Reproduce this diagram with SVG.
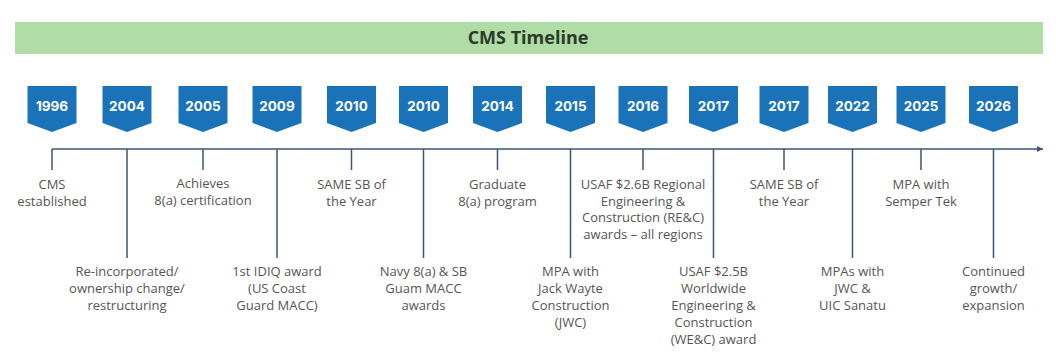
<svg xmlns="http://www.w3.org/2000/svg" width="1056" height="360" viewBox="0 0 1056 360">
<defs>
<style>
.yr{font-family:Inter,"Liberation Sans",sans-serif;font-weight:700;font-size:13.5px;fill:#fff;text-anchor:middle}
.lb{font-family:"Open Sans","Liberation Sans",sans-serif;font-size:13px;fill:#555;text-anchor:middle}
.tk{stroke:#3d5573;stroke-width:1.5;fill:none}
.bd{fill:#1a72b9}
</style>
<marker id="ah" markerWidth="8" markerHeight="8" refX="6" refY="4" orient="auto" markerUnits="userSpaceOnUse">
<path d="M0,1 L6,4 L0,7 Z" fill="#3d5573"/>
</marker>
<path id="badge" d="M-24.5,0 H24.5 V37 L0,46 L-24.5,37 Z"/>
</defs>
<rect x="0" y="0" width="1056" height="360" fill="#fff"/>
<g id="title">
<rect x="15" y="22" width="1028" height="32" fill="#b0dca5"/>
<text x="528" y="44" font-family="'Open Sans','Liberation Sans',sans-serif" font-weight="700" font-size="18" fill="#2b3a2b" text-anchor="middle">CMS Timeline</text>
</g>
<g id="connectors">
<line class="tk" x1="52" y1="149" x2="1043" y2="149" marker-end="url(#ah)"/>
<line class="tk" x1="52" y1="149" x2="52" y2="170"/>
<line class="tk" x1="127" y1="149" x2="127" y2="258"/>
<line class="tk" x1="203" y1="149" x2="203" y2="170"/>
<line class="tk" x1="277" y1="149" x2="277" y2="258"/>
<line class="tk" x1="351.5" y1="149" x2="351.5" y2="170"/>
<line class="tk" x1="423.5" y1="149" x2="423.5" y2="258"/>
<line class="tk" x1="497.5" y1="149" x2="497.5" y2="170"/>
<line class="tk" x1="570.5" y1="149" x2="570.5" y2="258"/>
<line class="tk" x1="643" y1="149" x2="643" y2="170"/>
<line class="tk" x1="713.5" y1="149" x2="713.5" y2="258"/>
<line class="tk" x1="784" y1="149" x2="784" y2="170"/>
<line class="tk" x1="852.5" y1="149" x2="852.5" y2="258"/>
<line class="tk" x1="921" y1="149" x2="921" y2="170"/>
<line class="tk" x1="993.5" y1="149" x2="993.5" y2="258"/>
</g>
<g id="n1996"><use href="#badge" x="52" y="86" class="bd"/><text class="yr" x="52" y="110.5">1996</text>
<text class="lb" x="52" y="188.5">CMS</text><text class="lb" x="52" y="205.5">established</text></g>
<g id="n2004"><use href="#badge" x="127" y="86" class="bd"/><text class="yr" x="127" y="110.5">2004</text>
<text class="lb" x="127" y="275.5">Re-incorporated/</text><text class="lb" x="127" y="292.5">ownership change/</text><text class="lb" x="127" y="309.5">restructuring</text></g>
<g id="n2005"><use href="#badge" x="203" y="86" class="bd"/><text class="yr" x="203" y="110.5">2005</text>
<text class="lb" x="203" y="187.5">Achieves</text><text class="lb" x="203" y="204.5">8(a) certification</text></g>
<g id="n2009"><use href="#badge" x="277" y="86" class="bd"/><text class="yr" x="277" y="110.5">2009</text>
<text class="lb" x="277" y="275.5">1st IDIQ award</text><text class="lb" x="277" y="292.5">(US Coast</text><text class="lb" x="277" y="309.5">Guard MACC)</text></g>
<g id="n2010a"><use href="#badge" x="351.5" y="86" class="bd"/><text class="yr" x="351.5" y="110.5">2010</text>
<text class="lb" x="351.5" y="188.5">SAME SB of</text><text class="lb" x="351.5" y="205.5">the Year</text></g>
<g id="n2010b"><use href="#badge" x="423.5" y="86" class="bd"/><text class="yr" x="423.5" y="110.5">2010</text>
<text class="lb" x="423.5" y="275.5">Navy 8(a) &amp; SB</text><text class="lb" x="423.5" y="292.5">Guam MACC</text><text class="lb" x="423.5" y="309.5">awards</text></g>
<g id="n2014"><use href="#badge" x="497.5" y="86" class="bd"/><text class="yr" x="497.5" y="110.5">2014</text>
<text class="lb" x="497.5" y="188.5">Graduate</text><text class="lb" x="497.5" y="205.5">8(a) program</text></g>
<g id="n2015"><use href="#badge" x="570.5" y="86" class="bd"/><text class="yr" x="570.5" y="110.5">2015</text>
<text class="lb" x="570.5" y="275.5">MPA with</text><text class="lb" x="570.5" y="292.5">Jack Wayte</text><text class="lb" x="570.5" y="309.5">Construction</text><text class="lb" x="570.5" y="326.5">(JWC)</text></g>
<g id="n2016"><use href="#badge" x="643" y="86" class="bd"/><text class="yr" x="643" y="110.5">2016</text>
<text class="lb" x="643" y="188.5">USAF $2.6B Regional</text><text class="lb" x="643" y="205.5">Engineering &amp;</text><text class="lb" x="643" y="222">Construction (RE&amp;C)</text><text class="lb" x="643" y="239">awards – all regions</text></g>
<g id="n2017a"><use href="#badge" x="713.5" y="86" class="bd"/><text class="yr" x="713.5" y="110.5">2017</text>
<text class="lb" x="713.5" y="275.5">USAF $2.5B</text><text class="lb" x="713.5" y="292.5">Worldwide</text><text class="lb" x="713.5" y="309.5">Engineering &amp;</text><text class="lb" x="713.5" y="326.5">Construction</text><text class="lb" x="713.5" y="344">(WE&amp;C) award</text></g>
<g id="n2017b"><use href="#badge" x="784" y="86" class="bd"/><text class="yr" x="784" y="110.5">2017</text>
<text class="lb" x="784" y="188.5">SAME SB of</text><text class="lb" x="784" y="205.5">the Year</text></g>
<g id="n2022"><use href="#badge" x="852.5" y="86" class="bd"/><text class="yr" x="852.5" y="110.5">2022</text>
<text class="lb" x="852.5" y="275.5">MPAs with</text><text class="lb" x="852.5" y="292.5">JWC &amp;</text><text class="lb" x="852.5" y="309.5">UIC Sanatu</text></g>
<g id="n2025"><use href="#badge" x="921" y="86" class="bd"/><text class="yr" x="921" y="110.5">2025</text>
<text class="lb" x="921" y="188.5">MPA with</text><text class="lb" x="921" y="205.5">Semper Tek</text></g>
<g id="n2026"><use href="#badge" x="993.5" y="86" class="bd"/><text class="yr" x="993.5" y="110.5">2026</text>
<text class="lb" x="993.5" y="275.5">Continued</text><text class="lb" x="993.5" y="292.5">growth/</text><text class="lb" x="993.5" y="309.5">expansion</text></g>
</svg>
